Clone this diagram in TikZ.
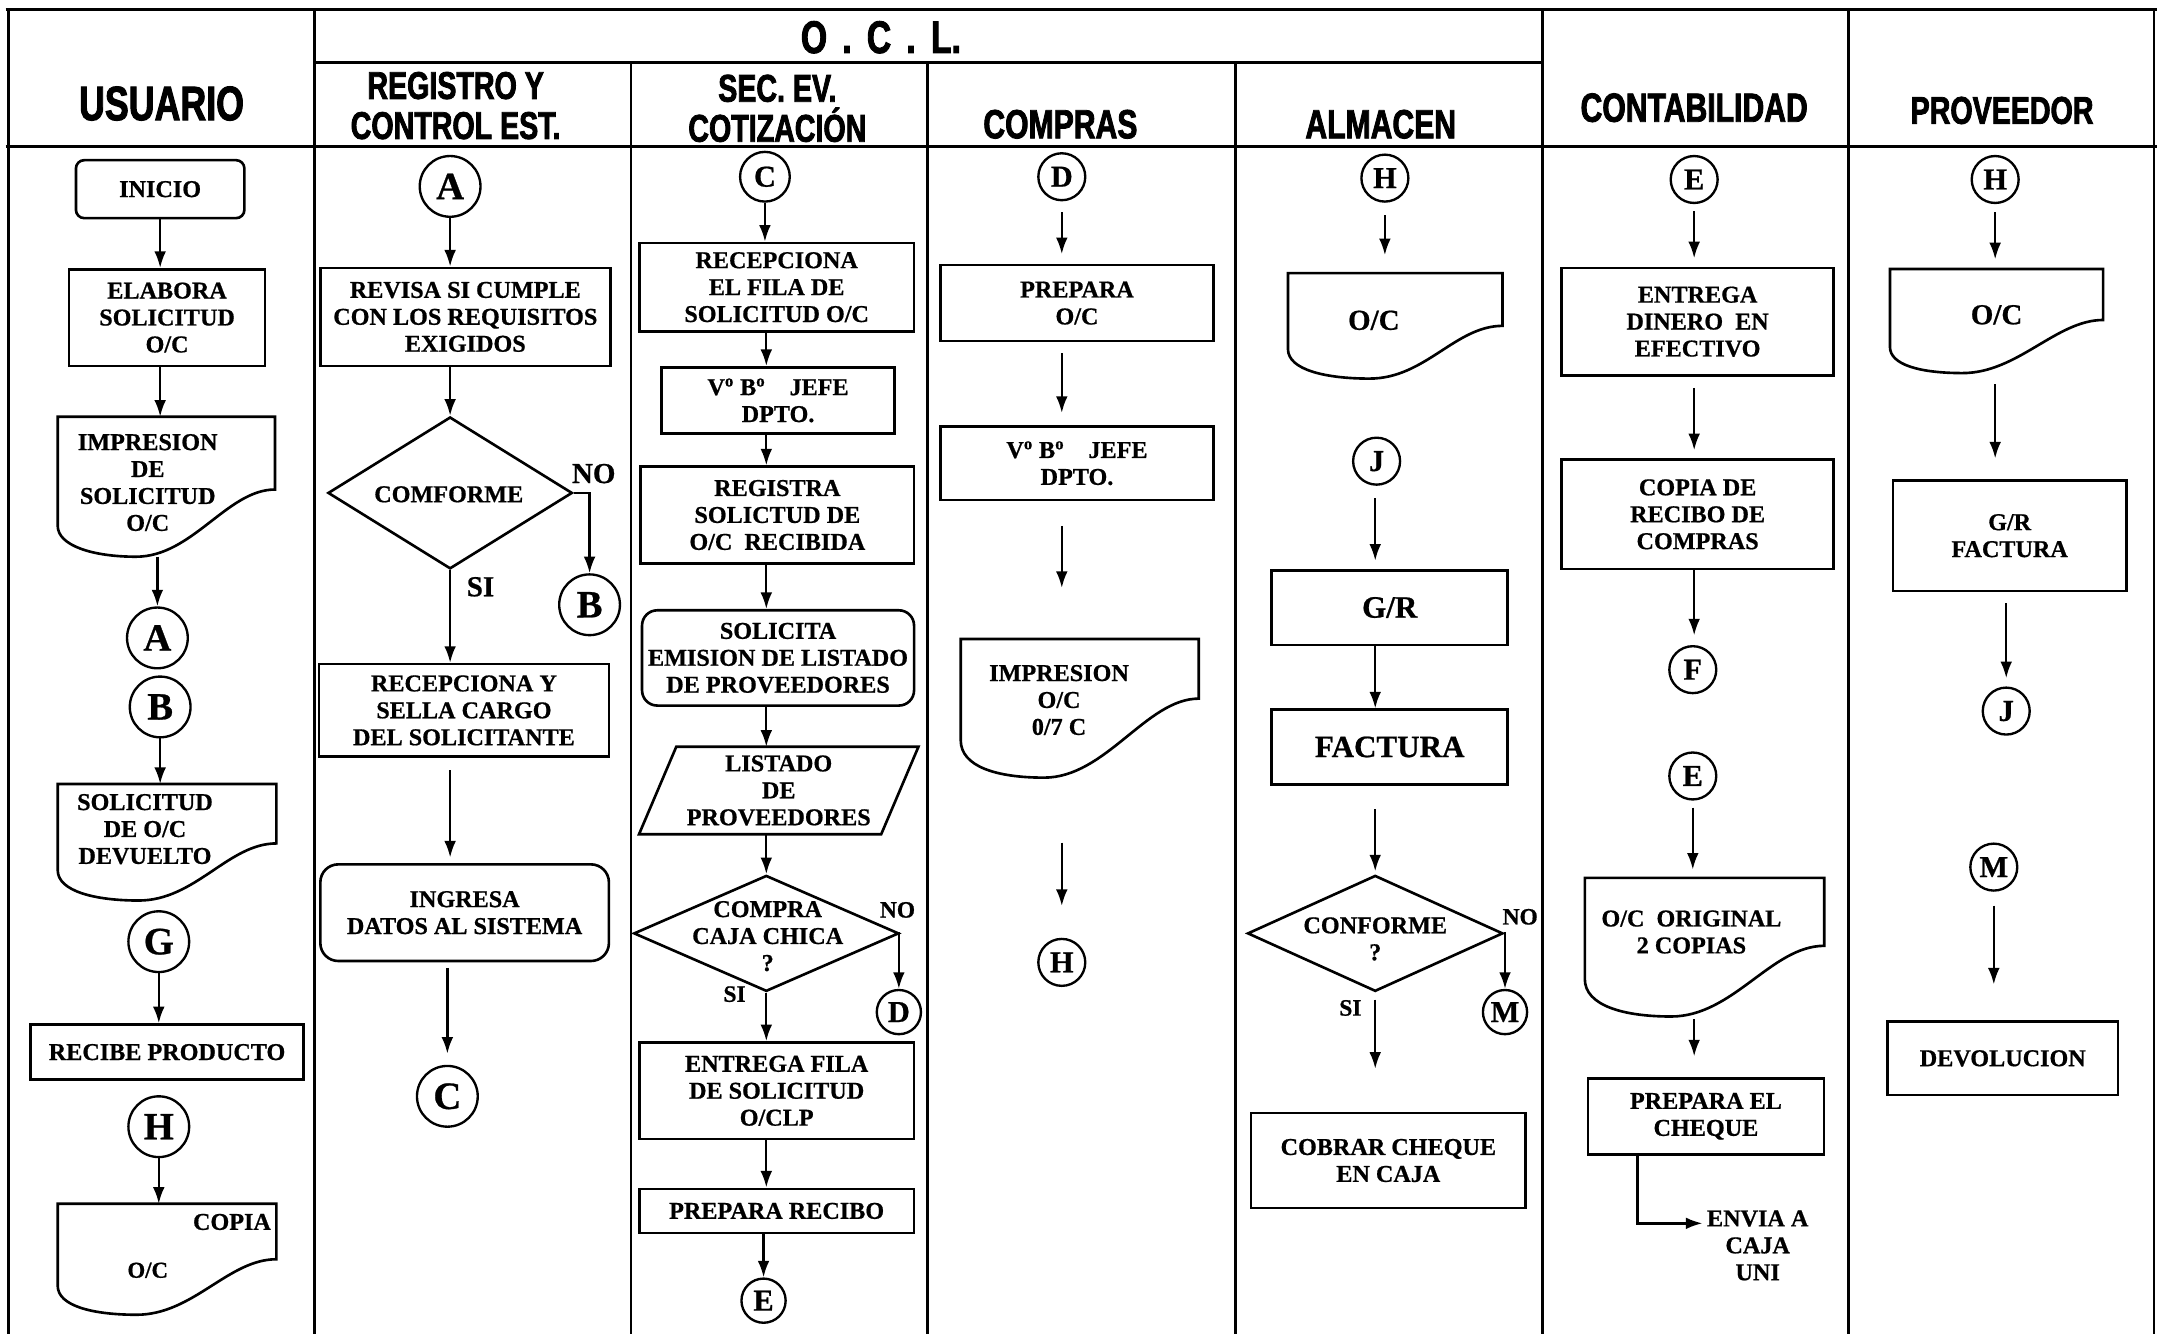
\documentclass[tikz,border=0pt]{standalone}
\usepackage{fontspec}
\setmainfont{Liberation Serif}[BoldFeatures={FakeBold=0.7}]
\newfontfamily\hdfam[FakeStretch=0.74,FakeBold=2]{Liberation Sans Bold}
\usetikzlibrary{arrows.meta,shapes.geometric,calc}

\newcommand\bxfont{\fontsize{17.5}{19.5}\selectfont\bfseries}
\newcommand\bxbig{\fontsize{22.5}{24}\selectfont\bfseries}
\newcommand\bxoc{\fontsize{21}{22}\selectfont\bfseries}
\newcommand\bxlbl{\fontsize{17}{17}\selectfont\bfseries}
\newcommand\bxlblb{\fontsize{21}{21}\selectfont\bfseries}

% document symbol: flat top, straight sides, wavy bottom
% #1 node, #2 right side depth, #3 left side depth, #4 x of lowest point (fractions)
\newcommand\docshape[4]{%
  \draw[shp] let \p1=(#1.north west), \p2=(#1.south east),
      \n1={\x2-\x1}, \n2={\y1-\y2} in
    (\p1) -- (\x2,\y1) -- (\x2,{\y1-#2*\n2})
    .. controls ({\x2-0.22*\n1},{\y1-#2*\n2}) and ({\x1+(#4+0.26)*\n1},\y2) .. ({\x1+#4*\n1},\y2)
    .. controls ({\x1+(#4-0.2)*\n1},\y2) and (\x1,{\y2+0.08*\n2}) .. (\x1,{\y1-#3*\n2}) -- cycle;
}

\begin{document}
\begin{tikzpicture}[x=1pt,y=-1pt,
  box/.style={draw, line width=1.9pt, rectangle, align=center, inner sep=0pt, font=\bxfont},
  rbox/.style={box, rounded corners=9pt},
  con/.style={circle, draw, line width=1.7pt, minimum size=44pt, inner sep=0pt,
              font=\fontsize{28}{28}\selectfont\bfseries},
  scon/.style={con, minimum size=34pt, font=\fontsize{22}{22}\selectfont\bfseries},
  docbox/.style={rectangle, inner sep=0pt},
  shp/.style={draw, line width=1.9pt},
  txt/.style={align=center, inner sep=0pt, font=\bxfont},
  lbl/.style={inner sep=0pt, font=\bxlbl},
  lblb/.style={inner sep=0pt, font=\bxlblb},
  arr/.style={line width=1.7pt, -{Latex[length=12pt,width=8.5pt]}},
  frame/.style={line width=2.1pt},
  hdr/.style={align=center, inner sep=0pt, font=\hdfam\fontsize{28}{29}\selectfont},
  dia/.style={diamond, draw, line width=1.9pt, inner sep=0pt}
]
\useasboundingbox (0,0) rectangle (1568,966);

% ---------- table frame ----------
\draw[frame] (4,7) -- (1562,7);
\draw[frame] (4,106) -- (1562,106);
\draw[frame] (228,45) -- (1117,45);
\foreach \x in {6,228,1117,1339,1560} \draw[frame] (\x,7) -- (\x,966);
\foreach \x in {457,672,895} \draw[frame] (\x,45) -- (\x,966);

% ---------- headers ----------
\node[hdr, font=\hdfam\fontsize{35}{35}\selectfont] (h1) at (117,75) {USUARIO};
\node[hdr, font=\hdfam\fontsize{33}{33}\selectfont] (h0) at (638,27) {O\,\,.\,\,C\,\,.\,\,L.};
\node[hdr] (h2) at (330,76.5) {REGISTRO Y\\CONTROL EST.};
\node[hdr] (h3) at (563,78.5) {SEC. EV.\\COTIZACIÓN};
\node[hdr, font=\hdfam\fontsize{29.5}{30}\selectfont] (h4) at (768,90) {COMPRAS};
\node[hdr, font=\hdfam\fontsize{29.5}{30}\selectfont] (h5) at (1000,90) {ALMACEN};
\node[hdr, font=\hdfam\fontsize{29.5}{30}\selectfont] (h6) at (1227,78) {CONTABILIDAD};
\node[hdr] (h7) at (1450,80) {PROVEEDOR};

% ---------- USUARIO ----------
\node[rbox, rounded corners=6pt, minimum width=122pt, minimum height=42pt] (ini) at (116,137) {INICIO};
\node[box, minimum width=142pt, minimum height=70pt] (ela) at (121,230) {ELABORA\\SOLICITUD\\O/C};
\node[docbox, minimum width=157pt, minimum height=101pt] (imp) at (120.5,352.5) {};
\docshape{imp}{0.52}{0.78}{0.36}
\node[txt] (impt) at (107,349.5) {IMPRESION\\DE\\SOLICITUD\\O/C};
\node[con] (ua) at (114,462) {A};
\node[con] (ub) at (116,512) {B};
\node[docbox, minimum width=158pt, minimum height=84pt] (dev) at (121,610) {};
\docshape{dev}{0.51}{0.74}{0.37}
\node[txt] (devt) at (105,600.5) {SOLICITUD\\DE O/C\\DEVUELTO};
\node[con] (ug) at (115,682) {G};
\node[box, minimum width=198pt, minimum height=40pt] (rcb) at (121,762) {RECIBE PRODUCTO};
\node[con] (uh) at (115,816) {H};
\node[docbox, minimum width=158pt, minimum height=80pt] (cop) at (121,912) {};
\docshape{cop}{0.5}{0.74}{0.36}
\node[txt] (copa) at (168,885) {COPIA};
\node[txt, font=\fontsize{16.5}{18}\selectfont\bfseries] (copb) at (107,920) {O/C};

\draw[arr] (ini.south) -- (ini.south |- ela.north);
\draw[arr] (ela.south -| ini) -- (imp.north -| ini);
\draw[arr] (imp.south -| ua) -- (ua.north);
\draw[arr] (ub.south) -- (ub.south |- dev.north);
\draw[arr] (ug.south) -- (ug.south |- rcb.north);
\draw[arr] (uh.south) -- (uh.south |- cop.north);

% ---------- REGISTRO Y CONTROL EST. ----------
\node[con] (ra) at (326,135) {A};
\node[box, minimum width=210pt, minimum height=71pt] (rev) at (337,229.5) {REVISA SI CUMPLE\\CON LOS REQUISITOS\\EXIGIDOS};
\node[dia, minimum width=177pt, minimum height=110pt] (d1) at (326,357) {};
\node[txt] (d1t) at (325,358) {COMFORME};
\node[con] (rb) at (427,438) {B};
\node[box, minimum width=210pt, minimum height=67pt] (sel) at (336,514.5) {RECEPCIONA Y\\SELLA CARGO\\DEL SOLICITANTE};
\node[rbox, rounded corners=13pt, minimum width=209pt, minimum height=70pt] (ing) at (336.5,661) {INGRESA\\DATOS AL SISTEMA};
\node[con] (rc) at (324,794) {C};

\draw[arr] (ra.south) -- (ra.south |- rev.north);
\draw[arr] (rev.south -| d1) -- (d1.north);
\draw[arr] (d1.east) -| (rb.north);
\node[lblb] (no1) at (430,343) {NO};
\draw[arr] (d1.south) -- (d1.south |- sel.north);
\node[lblb] (si1) at (348,425) {SI};
\draw[arr, shorten <=9pt, shorten >=4pt] (sel.south -| d1) -- (ing.north -| d1);
\draw[arr, shorten <=4pt, shorten >=8pt] (ing.south -| rc) -- (rc.north);

% ---------- SEC. EV. COTIZACION ----------
\coordinate (sx) at (555,0);
\node[scon, minimum size=36pt] (sc) at (554,128) {C};
\node[box, minimum width=199pt, minimum height=64pt] (rcp) at (562.5,208) {RECEPCIONA\\EL FILA DE\\SOLICITUD O/C};
\node[box, minimum width=169pt, minimum height=48pt] (vb1) at (563.5,290) {V\textsuperscript{o} B\textsuperscript{o}\quad JEFE\\DPTO.};
\node[box, minimum width=198pt, minimum height=70pt] (reg) at (563,373) {REGISTRA\\SOLICTUD DE\\O/C\ \ RECIBIDA};
\node[rbox, rounded corners=11pt, minimum width=197pt, minimum height=69pt] (sol) at (563.5,476.5) {SOLICITA\\EMISION DE LISTADO\\DE PROVEEDORES};
\node[docbox, minimum width=175pt, minimum height=63pt, align=center, font=\bxfont] (lis) at (564,572.5) {LISTADO\\DE\\PROVEEDORES};
\draw[shp] ($(lis.south west)+(-13.5,0)$) -- ($(lis.north west)+(13.5,0)$)
   -- ($(lis.north east)+(13.5,0)$) -- ($(lis.south east)+(-13.5,0)$) -- cycle;
\node[dia, minimum width=192pt, minimum height=84pt] (d2) at (555,676) {};
\node[txt] (d2t) at (556,678) {COMPRA\\CAJA CHICA\\?};
\node[scon, minimum size=32pt] (sd) at (651,733) {D};
\node[box, minimum width=199pt, minimum height=70pt] (ent) at (562.5,790) {ENTREGA FILA\\DE SOLICITUD\\O/CLP};
\node[box, minimum width=199pt, minimum height=32pt] (pre) at (562.5,877) {PREPARA RECIBO};
\node[scon, minimum size=32pt] (se) at (553,942) {E};

\draw[arr] (sc.south) -- (sc.south |- rcp.north);
\draw[arr] (rcp.south -| sx) -- (vb1.north -| sx);
\draw[arr] (vb1.south -| sx) -- (reg.north -| sx);
\draw[arr] (reg.south -| sx) -- (sol.north -| sx);
\draw[arr] (sol.south -| sx) -- (lis.north -| sx);
\draw[arr] (lis.south -| sx) -- (d2.north);
\draw[arr] (d2.east) -| (sd.north);
\node[lbl] (no2) at (650,659) {NO};
\draw[arr] (d2.south) -- (d2.south |- ent.north);
\node[lbl] (si2) at (532,720) {SI};
\draw[arr] (ent.south -| sx) -- (pre.north -| sx);
\draw[arr] (pre.south -| se) -- (se.north);

% ---------- COMPRAS ----------
\node[scon] (cd) at (769,128) {D};
\node[box, minimum width=198pt, minimum height=55pt] (prp) at (780,219.5) {PREPARA\\O/C};
\node[box, minimum width=198pt, minimum height=53pt] (vb2) at (780,335.5) {V\textsuperscript{o} B\textsuperscript{o}\quad JEFE\\DPTO.};
\node[docbox, minimum width=172pt, minimum height=100pt] (im2) at (782,513) {};
\docshape{im2}{0.43}{0.73}{0.35}
\node[txt] (im2t) at (767,507) {IMPRESION\\O/C\\0/7 C};
\node[scon] (ch) at (769,697) {H};

\draw[arr, shorten <=8pt, shorten >=7pt] (cd.south) -- (cd.south |- prp.north);
\draw[arr, shorten <=8pt, shorten >=9pt] (prp.south -| cd) -- (vb2.north -| cd);
\draw[arr, shorten <=18pt, shorten >=37pt] (vb2.south -| cd) -- (im2.north -| cd);
\draw[arr, shorten <=47pt, shorten >=23pt] (im2.south -| cd) -- (ch.north);

% ---------- ALMACEN ----------
\coordinate (axA) at (996,0);
\node[scon] (ah) at (1003,129) {H};
\node[docbox, minimum width=155pt, minimum height=76pt] (oc5) at (1010.5,236) {};
\docshape{oc5}{0.5}{0.72}{0.38}
\node[txt, font=\bxoc] (oc5t) at (995,232) {O/C};
\node[scon] (aj) at (997,334) {J};
\node[box, minimum width=171pt, minimum height=54pt, font=\bxbig] (gr5) at (1006.5,440) {G/R};
\node[box, minimum width=171pt, minimum height=54pt, font=\bxbig] (fac) at (1006.5,541) {FACTURA};
\node[dia, minimum width=185pt, minimum height=84pt] (d3) at (996,676) {};
\node[txt] (d3t) at (996,680) {CONFORME\\?};
\node[scon, minimum size=32pt] (am) at (1090,733) {M};
\node[box, minimum width=199pt, minimum height=69pt] (cob) at (1005.5,840.5) {COBRAR CHEQUE\\EN CAJA};

\draw[arr, shorten <=9pt, shorten >=13pt] (ah.south) -- (ah.south |- oc5.north);
\draw[arr, shorten <=9pt, shorten >=6pt] (aj.south -| axA) -- (gr5.north -| axA);
\draw[arr] (gr5.south -| axA) -- (fac.north -| axA);
\draw[arr, shorten <=17pt, shorten >=2pt] (fac.south -| axA) -- (d3.north);
\draw[arr] (d3.east) -| (am.north);
\node[lbl] (no3) at (1101,664) {NO};
\draw[arr, shorten <=5pt, shorten >=31pt] (d3.south) -- (d3.south |- cob.north);
\node[lbl] (si3) at (978,730) {SI};

% ---------- CONTABILIDAD ----------
\coordinate (kx) at (1227,0);
\node[scon] (ke) at (1227,130) {E};
\node[box, minimum width=197pt, minimum height=78pt] (edi) at (1229.5,233) {ENTREGA\\DINERO\ \ EN\\EFECTIVO};
\node[box, minimum width=197pt, minimum height=79pt] (cpr) at (1229.5,372.5) {COPIA DE\\RECIBO DE\\COMPRAS};
\node[scon] (kf) at (1226,485) {F};
\node[scon] (ke2) at (1226,562) {E};
\node[docbox, minimum width=173pt, minimum height=100pt] (org) at (1234.5,686) {};
\docshape{org}{0.49}{0.73}{0.36}
\node[txt] (orgt) at (1225,675) {O/C\ \ ORIGINAL\\2 COPIAS};
\node[box, minimum width=171pt, minimum height=55pt] (chq) at (1235.5,808.5) {PREPARA EL\\CHEQUE};
\node[txt] (env) at (1273,902) {ENVIA A\\CAJA\\UNI};
\coordinate (envtip) at (1233,886);

\draw[arr, shorten <=5pt, shorten >=6pt] (ke.south) -- (ke.south |- edi.north);
\draw[arr, shorten <=8pt, shorten >=6pt] (edi.south -| kx) -- (cpr.north -| kx);
\draw[arr, shorten >=7pt] (cpr.south -| kx) -- (kf.north -| kx);
\draw[arr, shorten <=5pt, shorten >=6pt] (ke2.south) -- (ke2.south |- org.north);
\draw[arr, shorten <=2pt, shorten >=15pt] (org.south -| kx) -- (chq.north -| kx);
\draw[arr] ($(chq.south west)+(37,0)$) |- (envtip);

% ---------- PROVEEDOR ----------
\node[scon] (ph) at (1445,130) {H};
\node[docbox, minimum width=154pt, minimum height=75pt] (oc7) at (1446,232.5) {};
\docshape{oc7}{0.49}{0.75}{0.34}
\node[txt, font=\bxoc] (oc7t) at (1446,228) {O/C};
\node[box, minimum width=169pt, minimum height=80pt] (grf) at (1455.5,388) {G/R\\FACTURA};
\node[scon] (pj) at (1453,515) {J};
\node[scon] (pm) at (1444,628) {M};
\node[box, minimum width=167pt, minimum height=53pt] (dvl) at (1450.5,766.5) {DEVOLUCION};

\draw[arr, shorten <=6pt, shorten >=7pt] (ph.south) -- (ph.south |- oc7.north);
\draw[arr, shorten <=8pt, shorten >=15pt] (oc7.south -| ph) -- (grf.north -| ph);
\draw[arr, shorten <=8pt, shorten >=6pt] (grf.south -| pj) -- (pj.north);
\draw[arr, shorten <=10pt, shorten >=26pt] (pm.south) -- (pm.south |- dvl.north);
\end{tikzpicture}
\end{document}
